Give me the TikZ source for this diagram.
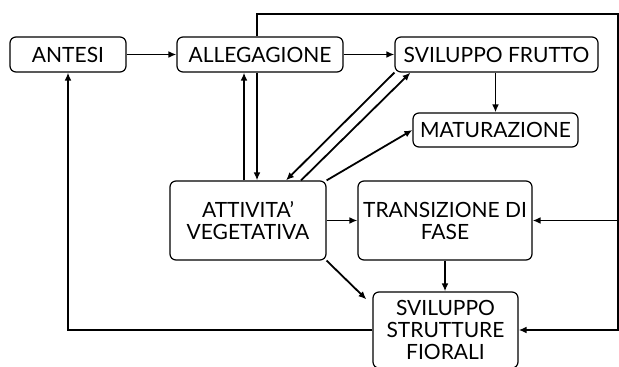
\documentclass[tikz,border=0pt]{standalone}
\usepackage{fontspec}
\setmainfont{Lato}
\usepackage{tikz}
\usetikzlibrary{calc,arrows.meta}

\begin{document}
\begin{tikzpicture}[x=0.5pt,y=-0.5pt,
    box/.style={draw, rounded corners=3pt, line width=0.6pt, align=center,
      inner sep=0pt, font=\fontsize{10.5}{11}\selectfont},
    arr/.style={-{Latex[length=4pt,width=3.4pt]}, line width=0.9pt}]
    \fill[white] (0,0) rectangle (619,367);
    \useasboundingbox (0,0) rectangle (619,367);
    % Top row
    \node[box, minimum width=58pt, minimum height=17.5pt] (antesi) at (68,54.5) {ANTESI};
    \node[box, minimum width=83pt, minimum height=17.5pt] (alleg) at (260,54.5) {ALLEGAGIONE};
    \node[box, minimum width=101.5pt, minimum height=17.5pt] (frutto) at (496.5,54.5) {SVILUPPO FRUTTO};
    \node[box, minimum width=82.5pt, minimum height=17pt] (matur) at (495.5,130) {MATURAZIONE};
    % Lower boxes
    \node[box, minimum width=78pt, minimum height=39.5pt] (attiv) at (248,220.5) {ATTIVITA'\\VEGETATIVA};
    \node[box, minimum width=87pt, minimum height=39.5pt] (trans) at (445,220.5) {TRANSIZIONE DI\\FASE};
    \node[box, minimum width=72.5pt, minimum height=38pt] (fiorali) at (445.5,330) {SVILUPPO\\STRUTTURE\\FIORALI};
    % Straight arrows
    \draw[arr] (antesi) -- (alleg);
    \draw[arr] (alleg) -- (frutto);
    \draw[arr] (frutto.south -| matur.north) -- (matur.north);
    \draw[arr] (attiv) -- (trans);
    \draw[arr] (trans.south) -- (trans.south |- fiorali.north);
    % Between allegagione and attivita
    \draw[arr] ([xshift=-2pt]attiv.north) -- ([xshift=-2pt]attiv.north |- alleg.south);
    \draw[arr] ([xshift=4.5pt]attiv.north |- alleg.south) -- ([xshift=4.5pt]attiv.north);
    % Diagonals
    \draw[arr] (frutto.south west) -- ([xshift=19pt]attiv.north);
    \draw[arr] ([xshift=26.5pt]attiv.north) -- ([xshift=8pt]frutto.south west);
    \draw[arr] (attiv.north east) -- (matur.west);
    \draw[arr] (attiv.south east) -- ([xshift=-3pt,yshift=-4pt]fiorali.north west);
    % Loops
    \coordinate (topr) at (618,14);
    \draw[arr] ([xshift=-1.5pt]alleg.north) |- (topr) |- (fiorali.east);
    \draw[arr] (trans.east -| topr) -- (trans.east);
    \draw[arr] (fiorali.west) -| (antesi.south);
\end{tikzpicture}
\end{document}
